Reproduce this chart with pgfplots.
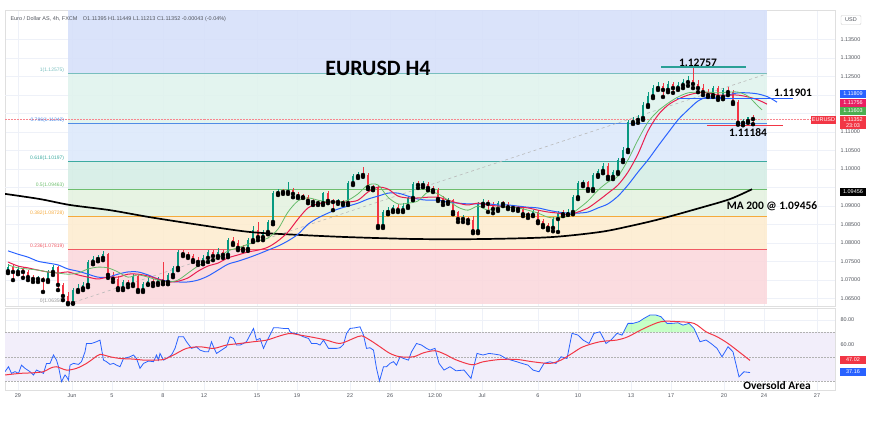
\documentclass[border=0pt]{standalone}
\usepackage{fontspec}
\setmainfont{Liberation Sans}
\newfontfamily\annofont{Carlito}
\usepackage{pgfplots}
\pgfplotsset{compat=1.18}
\usepackage{pgfplotstable}

\definecolor{upc}{RGB}{8,153,129}
\definecolor{dnc}{RGB}{242,54,69}
\definecolor{emag}{RGB}{102,187,106}
\definecolor{emar}{RGB}{233,30,80}
\definecolor{emab}{RGB}{41,98,255}
\definecolor{lav}{RGB}{242,238,250}
\definecolor{fA}{RGB}{214,224,250}
\definecolor{fB}{RGB}{224,243,237}
\definecolor{fC}{RGB}{221,233,251}
\definecolor{fD}{RGB}{213,237,229}
\definecolor{fE}{RGB}{228,242,224}
\definecolor{fF}{RGB}{253,236,208}
\definecolor{fG}{RGB}{251,216,221}
\definecolor{lA}{RGB}{120,190,190}
\definecolor{lB}{RGB}{80,140,230}
\definecolor{lC}{RGB}{60,170,160}
\definecolor{lD}{RGB}{110,190,110}
\definecolor{lE}{RGB}{245,170,60}
\definecolor{lF}{RGB}{240,90,100}
\definecolor{lG}{RGB}{150,150,150}
\definecolor{txt}{RGB}{80,84,92}
\definecolor{gridc}{RGB}{238,241,248}
\definecolor{teal1}{RGB}{42,160,150}
\definecolor{tagr}{RGB}{233,30,99}
\definecolor{tagg}{RGB}{76,175,80}

\newcommand{\tk}{\fontsize{5.5}{6.5}\selectfont}
\newcommand{\fib}{\fontsize{5}{6}\selectfont}
\newcommand{\ann}{\annofont\bfseries\fontsize{11.5}{13}\selectfont}

% bar index, open, high, low, close (4h bars)
\pgfplotstableread{
i o h l c
0 1.0724 1.0743 1.0719 1.0735
1 1.0735 1.0741 1.0700 1.0722
2 1.0722 1.0738 1.0716 1.0730
3 1.0730 1.0735 1.0706 1.0722
4 1.0722 1.0727 1.0700 1.0708
5 1.0708 1.0714 1.0695 1.0703
6 1.0703 1.0711 1.0695 1.0706
7 1.0706 1.0708 1.0668 1.0700
8 1.0700 1.0727 1.0695 1.0722
9 1.0722 1.0741 1.0714 1.0735
10 1.0735 1.0738 1.0673 1.0687
11 1.0687 1.0692 1.0646 1.0657
12 1.0657 1.0668 1.0635 1.0638
13 1.0638 1.0678 1.0636 1.0673
14 1.0673 1.0689 1.0668 1.0678
15 1.0678 1.0695 1.0673 1.0687
16 1.0687 1.0754 1.0681 1.0749
17 1.0749 1.0765 1.0743 1.0757
18 1.0757 1.0768 1.0751 1.0760
19 1.0760 1.0779 1.0754 1.0770
20 1.0770 1.0773 1.0706 1.0714
21 1.0714 1.0722 1.0695 1.0703
22 1.0703 1.0711 1.0673 1.0678
23 1.0678 1.0700 1.0673 1.0695
24 1.0695 1.0700 1.0681 1.0689
25 1.0689 1.0716 1.0684 1.0711
26 1.0711 1.0714 1.0668 1.0673
27 1.0673 1.0695 1.0668 1.0689
28 1.0689 1.0706 1.0687 1.0697
29 1.0697 1.0703 1.0684 1.0692
30 1.0692 1.0708 1.0687 1.0703
31 1.0703 1.0749 1.0689 1.0695
32 1.0695 1.0719 1.0689 1.0714
33 1.0714 1.0738 1.0708 1.0733
34 1.0733 1.0781 1.0727 1.0776
35 1.0776 1.0781 1.0765 1.0770
36 1.0770 1.0776 1.0760 1.0765
37 1.0765 1.0770 1.0749 1.0754
38 1.0754 1.0762 1.0741 1.0749
39 1.0749 1.0768 1.0743 1.0760
40 1.0760 1.0781 1.0749 1.0776
41 1.0776 1.0781 1.0754 1.0765
42 1.0765 1.0787 1.0760 1.0776
43 1.0776 1.0781 1.0760 1.0768
44 1.0768 1.0814 1.0762 1.0808
45 1.0808 1.0816 1.0795 1.0800
46 1.0800 1.0808 1.0781 1.0787
47 1.0789 1.0795 1.0779 1.0784
48 1.0784 1.0814 1.0779 1.0808
49 1.0808 1.0846 1.0803 1.0835
50 1.0835 1.0857 1.0808 1.0816
51 1.0816 1.0835 1.0808 1.0830
52 1.0830 1.0862 1.0824 1.0857
53 1.0857 1.0941 1.0851 1.0935
54 1.0935 1.0946 1.0930 1.0941
55 1.0941 1.0946 1.0933 1.0938
56 1.0938 1.0965 1.0933 1.0943
57 1.0943 1.0949 1.0924 1.0933
58 1.0933 1.0938 1.0922 1.0927
59 1.0930 1.0933 1.0922 1.0924
60 1.0924 1.0930 1.0908 1.0914
61 1.0914 1.0919 1.0903 1.0911
62 1.0911 1.0916 1.0903 1.0908
63 1.0908 1.0938 1.0903 1.0935
64 1.0935 1.0941 1.0908 1.0914
65 1.0914 1.0919 1.0889 1.0911
66 1.0911 1.0919 1.0906 1.0914
67 1.0914 1.0916 1.0903 1.0908
68 1.0908 1.0968 1.0903 1.0962
69 1.0962 1.0987 1.0957 1.0981
70 1.0981 1.0992 1.0976 1.0987
71 1.0987 1.1006 1.0979 1.0984
72 1.0984 1.0989 1.0946 1.0951
73 1.0951 1.0957 1.0943 1.0949
74 1.0949 1.0954 1.0841 1.0846
75 1.0846 1.0889 1.0841 1.0884
76 1.0884 1.0897 1.0878 1.0889
77 1.0889 1.0903 1.0884 1.0897
78 1.0897 1.0906 1.0884 1.0889
79 1.0889 1.0908 1.0884 1.0900
80 1.0900 1.0927 1.0895 1.0922
81 1.0922 1.0965 1.0916 1.0960
82 1.0960 1.0968 1.0949 1.0957
83 1.0957 1.0968 1.0951 1.0960
84 1.0960 1.0965 1.0943 1.0949
85 1.0949 1.0954 1.0938 1.0943
86 1.0943 1.0949 1.0914 1.0919
87 1.0919 1.0927 1.0903 1.0911
88 1.0911 1.0922 1.0906 1.0916
89 1.0916 1.0919 1.0878 1.0884
90 1.0884 1.0887 1.0857 1.0865
91 1.0865 1.0876 1.0857 1.0868
92 1.0868 1.0870 1.0854 1.0862
93 1.0862 1.0873 1.0827 1.0832
94 1.0832 1.0911 1.0827 1.0906
95 1.0906 1.0919 1.0900 1.0911
96 1.0911 1.0916 1.0884 1.0906
97 1.0906 1.0911 1.0881 1.0892
98 1.0892 1.0914 1.0887 1.0908
99 1.0908 1.0914 1.0900 1.0906
100 1.0906 1.0911 1.0892 1.0897
101 1.0897 1.0903 1.0889 1.0895
102 1.0895 1.0900 1.0887 1.0892
103 1.0892 1.0897 1.0873 1.0878
104 1.0878 1.0884 1.0868 1.0876
105 1.0876 1.0889 1.0873 1.0884
106 1.0884 1.0889 1.0854 1.0859
107 1.0859 1.0865 1.0843 1.0849
108 1.0849 1.0854 1.0835 1.0841
109 1.0841 1.0870 1.0832 1.0865
110 1.0865 1.0887 1.0830 1.0881
111 1.0881 1.0889 1.0873 1.0878
112 1.0878 1.0892 1.0876 1.0884
113 1.0884 1.0930 1.0878 1.0924
114 1.0924 1.0968 1.0919 1.0962
115 1.0960 1.0970 1.0954 1.0965
116 1.0965 1.0968 1.0941 1.0946
117 1.0946 1.0989 1.0941 1.0984
118 1.0984 1.1000 1.0979 1.0995
119 1.0995 1.1017 1.0989 1.1008
120 1.1008 1.1017 1.0973 1.0979
121 1.0979 1.0998 1.0973 1.0992
122 1.0992 1.1030 1.0987 1.1025
123 1.1025 1.1060 1.1019 1.1052
124 1.1052 1.1133 1.1046 1.1127
125 1.1127 1.1141 1.1122 1.1133
126 1.1133 1.1146 1.1125 1.1138
127 1.1138 1.1181 1.1133 1.1173
128 1.1173 1.1208 1.1168 1.1197
129 1.1197 1.1227 1.1192 1.1219
130 1.1219 1.1235 1.1214 1.1225
131 1.1225 1.1233 1.1195 1.1214
132 1.1214 1.1238 1.1208 1.1230
133 1.1230 1.1235 1.1206 1.1219
134 1.1219 1.1235 1.1214 1.1227
135 1.1227 1.1243 1.1219 1.1235
136 1.1235 1.1252 1.1225 1.1241
137 1.1241 1.12757 1.1219 1.1230
138 1.1230 1.1241 1.1208 1.1219
139 1.1219 1.1230 1.1200 1.1208
140 1.1208 1.1216 1.1195 1.1200
141 1.1200 1.1225 1.1195 1.1219
142 1.1219 1.1225 1.1187 1.1195
143 1.1195 1.1219 1.1189 1.1214
144 1.1214 1.1222 1.1200 1.1208
145 1.1208 1.1214 1.1176 1.1181
146 1.1181 1.1187 1.1120 1.1125
147 1.1125 1.1135 1.11184 1.1130
148 1.1130 1.1141 1.1125 1.11395
149 1.11395 1.11449 1.11213 1.11352
}\cndl

\pgfplotstableread{
i p
-0.6 1.0933
6.4 1.0919
12.4 1.0903
20.4 1.0889
28.4 1.0870
38.4 1.0849
48.4 1.0830
58.4 1.0822
68.4 1.0816
81.8 1.0811
95.0 1.0811
108.4 1.0816
118.4 1.0830
124.4 1.0846
130.4 1.0865
138.4 1.0895
144.4 1.0919
148.8 1.09456
}\maL

\pgfplotstableread{
i p
0 1.0779
2 1.0770
4 1.0762
6 1.0751
8 1.0746
10 1.0741
12 1.0730
14 1.0724
16 1.0716
18 1.0708
20 1.0708
22 1.0716
24 1.0722
26 1.0722
28 1.0714
30 1.0703
32 1.0697
34 1.0695
36 1.0695
38 1.0700
40 1.0711
42 1.0727
44 1.0743
46 1.0751
48 1.0760
50 1.0770
52 1.0781
54 1.0792
56 1.0806
58 1.0824
60 1.0851
62 1.0868
64 1.0881
66 1.0892
68 1.0900
70 1.0908
72 1.0919
74 1.0927
76 1.0935
78 1.0935
80 1.0927
82 1.0919
84 1.0916
86 1.0916
88 1.0911
90 1.0908
92 1.0906
94 1.0906
96 1.0906
98 1.0903
100 1.0903
102 1.0900
104 1.0897
106 1.0895
108 1.0889
110 1.0884
112 1.0881
114 1.0881
116 1.0884
118 1.0895
120 1.0906
122 1.0927
124 1.0957
126 1.0992
128 1.1025
130 1.1062
132 1.1098
134 1.1133
136 1.1160
138 1.1184
140 1.1195
142 1.1192
144 1.1200
146 1.1206
148 1.1206
150 1.1203
152 1.1195
153.8 1.11809
}\emaB

\pgfplotstableread{
i p
0 1.0749
2 1.0738
4 1.0733
6 1.0727
8 1.0722
10 1.0719
12 1.0722
14 1.0714
16 1.0708
18 1.0703
20 1.0708
22 1.0708
24 1.0716
26 1.0716
28 1.0711
30 1.0703
32 1.0695
34 1.0697
36 1.0706
38 1.0724
40 1.0738
42 1.0746
44 1.0760
46 1.0768
48 1.0776
50 1.0781
52 1.0789
54 1.0806
56 1.0830
58 1.0865
60 1.0895
62 1.0906
64 1.0911
66 1.0911
68 1.0911
70 1.0916
72 1.0938
74 1.0951
76 1.0946
78 1.0927
80 1.0922
82 1.0922
84 1.0924
86 1.0924
88 1.0916
90 1.0908
92 1.0903
94 1.0908
96 1.0903
98 1.0900
100 1.0897
102 1.0897
104 1.0895
106 1.0889
108 1.0884
110 1.0881
112 1.0876
114 1.0884
116 1.0895
118 1.0914
120 1.0935
122 1.0957
124 1.0992
126 1.1041
128 1.1103
130 1.1146
132 1.1173
134 1.1189
136 1.1200
138 1.1206
140 1.1206
142 1.1200
144 1.1200
146 1.1200
148 1.1195
150 1.1187
151.8 1.11756
}\emaR

\pgfplotstableread{
i p
0 1.0741
2 1.0733
4 1.0730
6 1.0727
8 1.0722
10 1.0719
12 1.0716
14 1.0719
16 1.0730
18 1.0735
20 1.0733
22 1.0722
24 1.0708
26 1.0714
28 1.0708
30 1.0700
32 1.0695
34 1.0700
36 1.0719
38 1.0738
40 1.0751
42 1.0760
44 1.0779
46 1.0787
48 1.0797
50 1.0806
52 1.0814
54 1.0838
56 1.0884
58 1.0914
60 1.0922
62 1.0916
64 1.0911
66 1.0911
68 1.0916
70 1.0933
72 1.0957
74 1.0957
76 1.0924
78 1.0906
80 1.0908
82 1.0914
84 1.0938
86 1.0933
88 1.0916
90 1.0897
92 1.0889
94 1.0900
96 1.0889
98 1.0897
100 1.0897
102 1.0895
104 1.0889
106 1.0881
108 1.0870
110 1.0868
112 1.0873
114 1.0892
116 1.0914
118 1.0943
120 1.0965
122 1.0981
124 1.1025
126 1.1079
128 1.1127
130 1.1157
132 1.1178
134 1.1195
136 1.1206
138 1.1208
140 1.1208
142 1.1206
144 1.1208
146 1.1208
148 1.1197
150 1.1170
150.8 1.11603
}\emaG

\pgfplotstableread{
i r
-0.6 37.9
0.1 41.9
0.7 36.5
1.4 37.9
2.1 36.5
2.7 43.2
3.4 40.6
4.4 37.9
5.1 35.2
5.7 39.2
6.4 37.9
7.1 36.5
7.7 44.6
8.4 44.6
9.1 51.4
9.7 47.3
10.1 41.9
10.7 29.8
11.4 35.2
11.7 33.8
12.1 31.1
12.4 43.2
13.1 44.6
14.1 43.8
14.7 46.0
15.4 54.0
15.7 60.8
16.7 60.8
17.7 62.2
18.4 63.5
19.1 47.3
19.7 46.0
20.4 43.8
21.1 44.6
21.7 43.2
22.4 41.9
23.1 48.6
23.7 49.2
24.4 50.0
25.1 51.4
25.7 48.6
26.4 40.6
27.1 44.6
28.1 46.5
29.1 46.0
29.7 51.4
30.1 47.3
30.4 52.7
31.1 47.3
31.7 48.6
32.7 51.4
33.4 56.8
34.1 66.2
35.1 66.2
35.7 62.2
36.7 56.8
37.7 58.1
38.4 55.4
39.4 54.0
40.1 54.0
40.7 62.2
41.1 58.1
41.7 52.7
42.7 55.4
43.7 58.1
44.4 66.2
45.1 64.9
45.7 59.5
46.4 59.5
47.1 60.8
47.7 62.2
48.4 67.6
49.1 73.0
49.7 63.5
50.4 64.9
51.1 56.8
51.7 62.2
52.4 67.6
53.1 73.5
54.1 73.5
55.1 73.0
56.1 73.0
56.4 70.3
57.1 68.9
57.7 68.9
58.4 67.6
59.1 66.2
60.1 64.9
60.7 60.8
61.7 60.8
62.4 59.5
63.1 63.5
64.1 56.8
65.1 56.8
65.7 56.8
66.4 57.3
67.1 60.0
67.7 68.9
68.4 73.0
69.4 73.5
70.4 74.3
71.1 67.6
71.7 56.8
72.4 57.3
73.1 55.4
73.7 40.6
74.3 30.3
75.1 41.9
75.7 41.9
76.4 44.6
77.1 46.0
77.7 43.2
78.4 50.0
79.1 48.6
80.1 47.3
80.7 54.0
81.7 60.8
82.7 59.5
83.7 56.8
84.4 55.4
85.4 56.8
86.2 44.6
87.2 39.2
88.4 41.9
89.6 38.6
91.2 39.2
92.6 32.4
93.8 52.7
95.0 51.4
96.2 52.7
97.2 52.2
98.4 51.4
99.6 48.6
100.6 47.3
101.8 45.9
102.8 44.6
104.0 43.2
105.0 39.2
106.2 37.8
107.2 44.6
108.4 45.9
109.6 44.6
110.6 50.0
111.8 48.6
112.8 69.0
114.0 67.6
115.0 63.6
116.2 60.8
117.2 69.0
118.4 70.3
119.6 60.8
120.6 63.6
121.8 69.0
122.8 67.6
124.0 77.1
125.0 77.1
126.2 78.5
127.2 81.2
128.4 83.9
129.6 83.9
130.6 82.5
131.8 77.1
132.8 77.1
134.0 77.6
135.0 75.7
136.2 77.1
137.2 73.0
138.4 62.2
139.6 63.6
140.6 60.8
141.8 56.8
142.8 50.0
144.0 58.1
145.0 54.0
146.2 33.7
147.2 37.8
148.4 37.16
}\rsiB

\pgfplotstableread{
i r
-0.6 35.2
2.4 36.5
5.1 37.0
7.1 37.9
8.4 40.6
9.7 41.9
11.7 39.2
13.7 40.6
15.7 44.6
17.1 48.6
18.4 51.9
20.4 50.0
22.4 48.6
25.1 48.1
27.1 47.3
29.1 47.3
31.1 47.8
33.1 51.4
35.7 56.8
38.4 58.1
41.1 56.8
43.7 59.5
46.4 60.8
49.1 62.2
51.7 63.5
54.4 67.0
56.4 68.9
58.4 67.6
61.1 65.7
63.7 63.5
66.4 60.8
69.1 64.9
70.7 67.0
72.4 63.5
74.4 58.1
76.4 52.7
78.4 50.0
81.1 50.0
83.1 53.2
85.4 54.9
87.4 52.0
89.6 47.5
92.8 43.5
95.0 45.9
98.4 47.8
101.8 47.8
105.0 45.9
108.4 44.6
110.6 47.3
112.8 52.7
115.0 58.1
118.4 62.2
121.8 63.6
124.0 66.3
127.2 73.0
130.6 78.5
134.0 78.5
137.2 77.1
139.6 70.3
141.8 66.3
144.0 60.8
146.2 54.0
148.4 47.02
}\rsiR

\pgfplotsset{
  panel/.style={scale only axis, width=830bp, xmin=-0.6, xmax=165.4,
    axis line style={gray!25}, major tick length=0pt, clip=true,
    grid=major, major grid style={gridc, line width=0.6bp},
    xtick={2,12.8,20.8,31,39.2,49.8,57.8,68.4,76.4,85.4,94.8,106,114,124.6,132.6,143.2,151.2,161.8},
    yticklabel pos=right, scaled y ticks=false,
    extra y tick labels={}, extra y tick style={grid=major},
    tick label style={font=\tk, text=txt}},
  wick/.style={only marks, mark=none, forget plot,
    error bars/.cd, y dir=plus, y explicit, error mark=none,
    error bar style={draw=#1, line width=0.7bp}},
  body/.style={only marks, mark=none, forget plot,
    error bars/.cd, y dir=plus, y explicit, error mark=none,
    error bar style={draw=#1, line width=2.8bp}},
}
\tikzset{tag/.style={text=white, font=\tk, inner sep=0pt, minimum width=26bp, minimum height=8bp}}

\begin{document}
\begin{tikzpicture}
\useasboundingbox (0,0) rectangle (870bp,423bp);

\begin{axis}[panel, at={(5bp,117bp)}, anchor=south west, height=296bp,
  ymin=1.063, ymax=1.143,
  ytick={1.065,1.07,1.075,1.08,1.085,1.09,1.1,1.105,1.11,1.125,1.13,1.135},
  extra y ticks={1.095,1.115,1.12},
  xticklabels={},
  yticklabel style={xshift=2bp, /pgf/number format/.cd, fixed, fixed zerofill, precision=5, 1000 sep={}, assume math mode=true}]
% fibonacci zones
\addplot[fill=fA, draw=none, fill opacity=0.9] coordinates {(12,1.12575) (151.8,1.12575) (151.8,1.143) (12,1.143)} --cycle;
\addplot[fill=fB, draw=none, fill opacity=0.9] coordinates {(12,1.11242) (151.8,1.11242) (151.8,1.12575) (12,1.12575)} --cycle;
\addplot[fill=fC, draw=none, fill opacity=0.9] coordinates {(12,1.10197) (151.8,1.10197) (151.8,1.11242) (12,1.11242)} --cycle;
\addplot[fill=fD, draw=none, fill opacity=0.9] coordinates {(12,1.09463) (151.8,1.09463) (151.8,1.10197) (12,1.10197)} --cycle;
\addplot[fill=fE, draw=none, fill opacity=0.9] coordinates {(12,1.08728) (151.8,1.08728) (151.8,1.09463) (12,1.09463)} --cycle;
\addplot[fill=fF, draw=none, fill opacity=0.9] coordinates {(12,1.07819) (151.8,1.07819) (151.8,1.08728) (12,1.08728)} --cycle;
\addplot[fill=fG, draw=none, fill opacity=0.9] coordinates {(12,1.0635) (151.8,1.0635) (151.8,1.07819) (12,1.07819)} --cycle;
\addplot[lA, line width=0.8bp] coordinates {(12,1.12575) (151.8,1.12575)};
\addplot[lB, line width=0.8bp] coordinates {(12,1.11242) (151.8,1.11242)};
\addplot[lC, line width=0.8bp] coordinates {(12,1.10197) (151.8,1.10197)};
\addplot[lD, line width=0.8bp] coordinates {(12,1.09463) (151.8,1.09463)};
\addplot[lE, line width=0.8bp] coordinates {(12,1.08728) (151.8,1.08728)};
\addplot[lF, line width=0.8bp] coordinates {(12,1.07819) (151.8,1.07819)};
\addplot[gray!55, dashed, line width=0.6bp] coordinates {(12,1.0635) (151.8,1.12575)};
\addplot[dnc!60, densely dotted, line width=0.5bp] coordinates {(-0.6,1.11352) (165.4,1.11352)};
\node[anchor=south east, inner sep=0.8bp, text=lA, font=\fib] at (axis cs:11.4,1.12575) {1(1.12575)};
\node[anchor=south east, inner sep=0.8bp, text=lB, font=\fib] at (axis cs:11.4,1.11242) {0.786(1.11242)};
\node[anchor=south east, inner sep=0.8bp, text=lC, font=\fib] at (axis cs:11.4,1.10197) {0.618(1.10197)};
\node[anchor=south east, inner sep=0.8bp, text=lD, font=\fib] at (axis cs:11.4,1.09463) {0.5(1.09463)};
\node[anchor=south east, inner sep=0.8bp, text=lE, font=\fib] at (axis cs:11.4,1.08728) {0.382(1.08728)};
\node[anchor=south east, inner sep=0.8bp, text=lF, font=\fib] at (axis cs:11.4,1.07819) {0.236(1.07819)};
\node[anchor=south east, inner sep=0.8bp, text=lG, font=\fib] at (axis cs:11.4,1.0635) {0(1.06350)};
% candles
\addplot[restrict expr to domain={\thisrow{c}-\thisrow{o}}{0:1}, wick=upc]
  table[x=i, y=l, y error plus expr={\thisrow{h}-\thisrow{l}}] {\cndl};
\addplot[restrict expr to domain={\thisrow{c}-\thisrow{o}}{-1:-0.000001}, wick=dnc]
  table[x=i, y=l, y error plus expr={\thisrow{h}-\thisrow{l}}] {\cndl};
\addplot[restrict expr to domain={\thisrow{c}-\thisrow{o}}{0:1}, body=upc]
  table[x=i, y expr={min(\thisrow{o},\thisrow{c})}, y error plus expr={abs(\thisrow{c}-\thisrow{o})}] {\cndl};
\addplot[restrict expr to domain={\thisrow{c}-\thisrow{o}}{-1:-0.000001}, body=dnc]
  table[x=i, y expr={min(\thisrow{o},\thisrow{c})}, y error plus expr={abs(\thisrow{c}-\thisrow{o})}] {\cndl};
% moving averages
\addplot[black, line width=1.7bp, smooth] table[x=i, y=p] {\maL};
\addplot[emab, line width=1bp, smooth] table[x=i, y=p] {\emaB};
\addplot[emar, line width=1bp, smooth] table[x=i, y=p] {\emaR};
\addplot[emag, line width=0.8bp, smooth] table[x=i, y=p] {\emaG};
% marked levels
\addplot[teal1, line width=1.4bp] coordinates {(130.6,1.12757) (147.6,1.12757)};
\addplot[emab, line width=1.4bp] coordinates {(133.8,1.11901) (157,1.11901)};
\addplot[dnc, line width=1.4bp] coordinates {(139.8,1.11184) (155,1.11184)};
\end{axis}

\begin{axis}[panel, at={(5bp,33bp)}, anchor=south west, height=82bp,
  ymin=23, ymax=89.6, ytick={60,80}, extra y ticks={40},
  xticklabels={29,Jun,5,8,12,15,19,22,26,12:00,Jul,6,10,13,17,20,24,27},
  yticklabel style={xshift=2bp, /pgf/number format/.cd, fixed, fixed zerofill, precision=2, assume math mode=true}]
\addplot[fill=lav, draw=none] coordinates {(-0.6,30) (165.4,30) (165.4,70) (-0.6,70)} --cycle;
\addplot[gray!60, dash pattern=on 1.5bp off 1.5bp, line width=0.5bp] coordinates {(-0.6,70) (165.4,70)};
\addplot[gray!60, dash pattern=on 1.5bp off 1.5bp, line width=0.5bp] coordinates {(-0.6,50) (165.4,50)};
\addplot[gray!60, dash pattern=on 1.5bp off 1.5bp, line width=0.5bp] coordinates {(-0.6,30) (165.4,30)};
% overbought stretch of the RSI, filled down to 70
\addplot[fill=green!50!white, fill opacity=0.45, draw=none] coordinates {(123.1,70) (124,77.1) (125,77.1) (126.2,78.5) (127.2,81.2) (128.4,83.9) (129.6,83.9) (130.6,82.5) (131.8,77.1) (132.8,77.1) (134,77.6) (135,75.7) (136.2,77.1) (137.2,73) (137.55,70)} --cycle;
\addplot[emab, line width=0.8bp] table[x=i, y=r] {\rsiB};
\addplot[dnc, line width=1bp, smooth] table[x=i, y=r] {\rsiR};
\end{axis}

% header and annotations
\node[anchor=west, text=txt, font=\tk] at (7bp,404bp) {Euro / Dollar AS, 4h, FXCM\quad O1.11395\ H1.11449\ L1.11213\ C1.11352\ -0.00043 (-0.04\%)};
\node[font=\annofont\bfseries\fontsize{22}{25}\selectfont] at (378bp,355bp) {EURUSD H4};
\node[font=\ann] at (698bp,360bp) {1.12757};
\node[font=\ann] at (793bp,330bp) {1.11901};
\node[font=\ann] at (748bp,290bp) {1.11184};
\node[font=\ann] at (772bp,217bp) {MA 200 @ 1.09456};
\node[font=\ann] at (777bp,37bp) {Oversold Area};
% price scale tags
\node[draw=gray!40, rounded corners=1bp, text=txt, font=\tk, minimum width=20bp, minimum height=9bp, inner sep=0pt] at (851bp,403bp) {USD};
\node[tag, fill=emab] at (853bp,329bp) {1.11809};
\node[tag, fill=tagr] at (853bp,320bp) {1.11756};
\node[tag, fill=tagg] at (853bp,312bp) {1.11603};
\node[tag, fill=dnc, minimum height=13bp, align=center, font=\fontsize{5.5}{6.2}\selectfont] at (853bp,300.5bp) {1.11352\\23:03};
\node[fill=dnc, text=white, font=\tk, inner sep=1pt, minimum height=8bp] at (823.5bp,303bp) {EURUSD};
\node[tag, fill=black] at (853bp,231bp) {1.09456};
\node[tag, fill=dnc] at (853bp,63bp) {47.02};
\node[tag, fill=emab] at (853bp,51bp) {37.16};
\end{tikzpicture}
\end{document}
